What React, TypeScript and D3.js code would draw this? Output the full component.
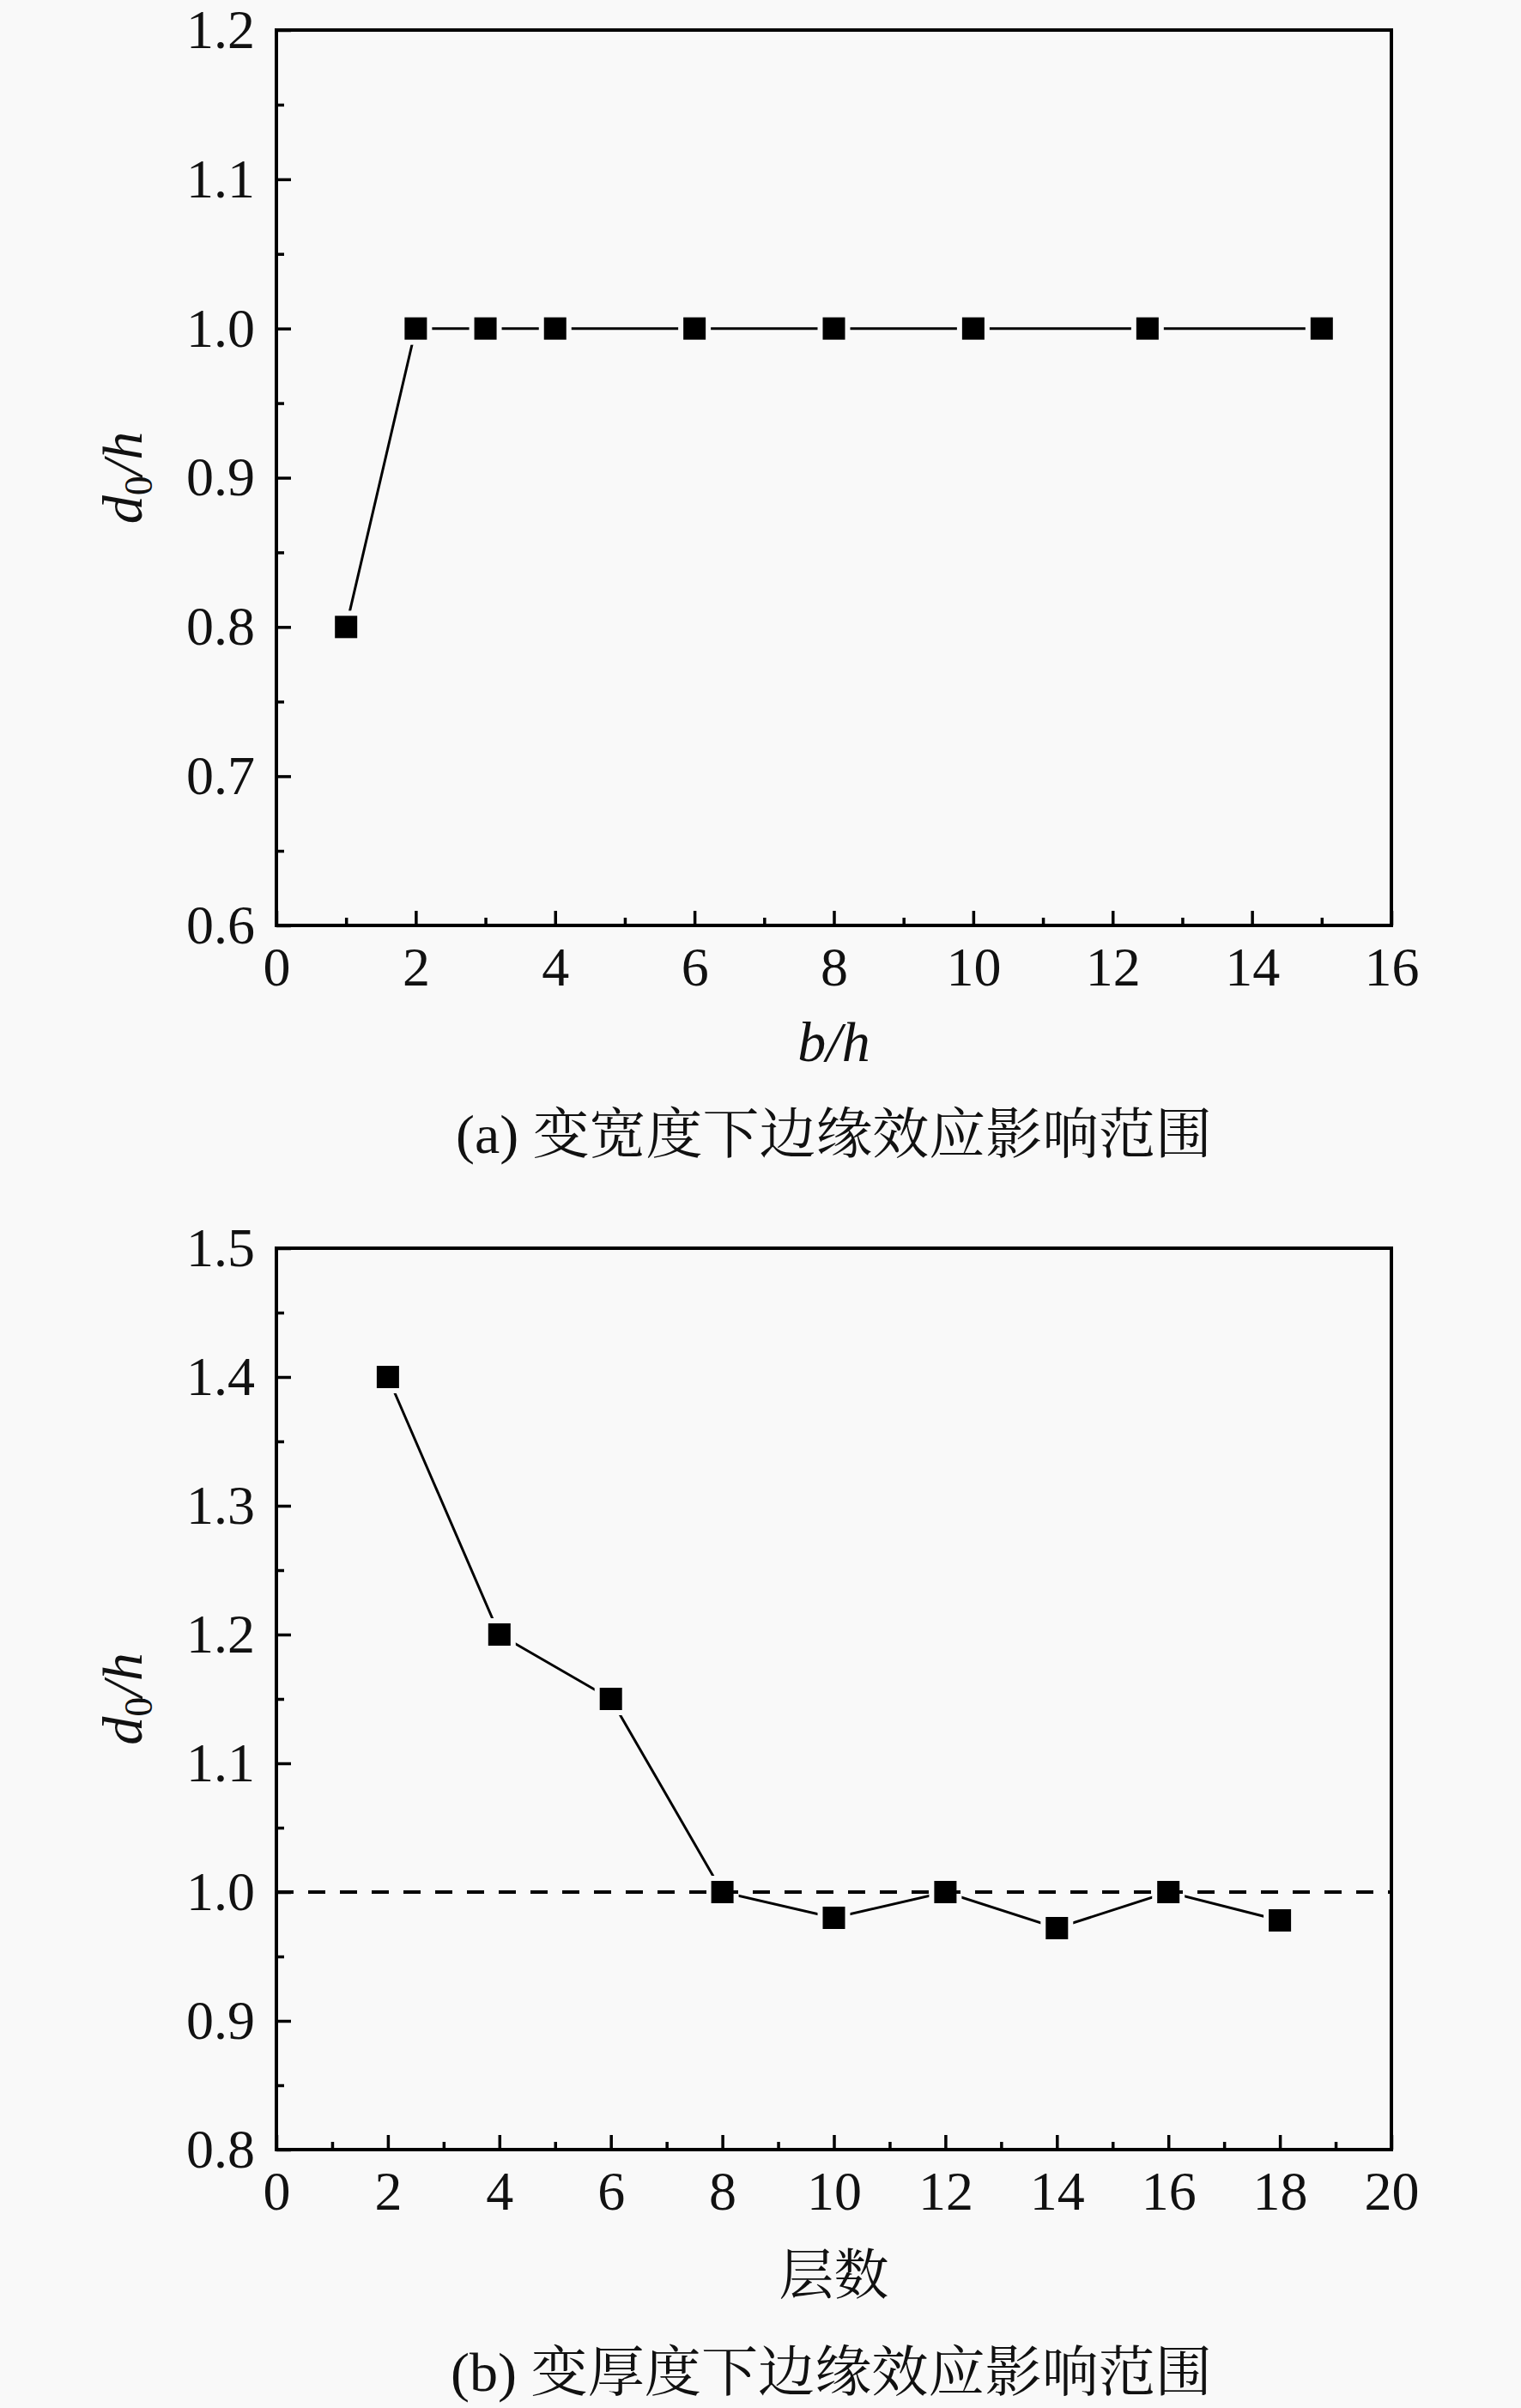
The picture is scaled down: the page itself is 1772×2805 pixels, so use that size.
import React, { useEffect, useRef } from 'react';
import * as d3 from 'd3';

// panel (a): edge effect range vs width
const widthRatio = [1, 2, 3, 4, 6, 8, 10, 12.5, 15];
const widthD0 = [0.8, 1.0, 1.0, 1.0, 1.0, 1.0, 1.0, 1.0, 1.0];

// panel (b): edge effect range vs number of layers
const layers = [2, 4, 6, 8, 10, 12, 14, 16, 18];
const layerD0 = [1.4, 1.2, 1.15, 1.0, 0.98, 1.0, 0.972, 1.0, 0.978];

const yTicksA = [0.6, 0.7, 0.8, 0.9, 1.0, 1.1, 1.2];
const yTicksB = [0.8, 0.9, 1.0, 1.1, 1.2, 1.3, 1.4, 1.5];

const captionA = '(a) 变宽度下边缘效应影响范围';
const captionB = '(b) 变厚度下边缘效应影响范围';
const xTitleB = '层数';

const BG = '#f9f9f9';
const SERIF = '"Liberation Serif", "Times New Roman", serif';
const CJK = '"Noto Serif CJK SC", "Noto Sans CJK SC", sans-serif';

interface Panel {
  top: number;
  bottom: number;
  xMax: number;
  yMin: number;
  yMax: number;
  yTicks: number[];
  xs: number[];
  ys: number[];
  refLine?: number;
}

const App: React.FC = () => {
  const svgRef = useRef<SVGSVGElement>(null);

  useEffect(() => {
    if (!svgRef.current) return;
    const svg = d3.select(svgRef.current);
    svg.selectAll('*').remove();

    svg.append('rect').attr('width', 1772).attr('height', 2805).attr('fill', BG);

    const left = 322;
    const right = 1621;

    const drawPanel = (p: Panel) => {
      const x = d3.scaleLinear().domain([0, p.xMax]).range([left, right]);
      const y = d3.scaleLinear().domain([p.yMin, p.yMax]).range([p.bottom, p.top]);
      const g = svg.append('g');

      const xMajor = d3.range(0, p.xMax + 0.001, 2);
      const xMinor = d3.range(1, p.xMax, 2);
      const yMinor = d3.range(p.yMin + 0.05, p.yMax, 0.1);

      // minor ticks
      g.append('g')
        .attr('transform', `translate(0,${p.bottom})`)
        .call(d3.axisBottom(x).tickValues(xMinor).tickSize(-9).tickFormat(() => ''))
        .call(s => s.select('.domain').remove());
      g.append('g')
        .attr('transform', `translate(${left},0)`)
        .call(d3.axisLeft(y).tickValues(yMinor).tickSize(-9).tickFormat(() => ''))
        .call(s => s.select('.domain').remove());

      // major ticks with labels
      const xa = g.append('g')
        .attr('transform', `translate(0,${p.bottom})`)
        .call(d3.axisBottom(x).tickValues(xMajor).tickSize(-17).tickPadding(25).tickFormat(d3.format('d')));
      xa.select('.domain').remove();
      const ya = g.append('g')
        .attr('transform', `translate(${left},0)`)
        .call(d3.axisLeft(y).tickValues(p.yTicks).tickSize(-17).tickPadding(25).tickFormat(d3.format('.1f')));
      ya.select('.domain').remove();

      g.selectAll('.tick line').attr('stroke', '#000').attr('stroke-width', 3.5);
      g.selectAll('.tick text')
        .attr('font-family', SERIF)
        .attr('font-size', 64)
        .attr('fill', '#111');

      // frame
      g.append('rect')
        .attr('x', left).attr('y', p.top)
        .attr('width', right - left).attr('height', p.bottom - p.top)
        .attr('fill', 'none').attr('stroke', '#000').attr('stroke-width', 4);

      // data line
      const line = d3.line<number>().x((_, i) => x(p.xs[i])).y(d => y(d));
      g.append('path')
        .attr('d', line(p.ys))
        .attr('fill', 'none').attr('stroke', '#000').attr('stroke-width', 3);

      const m = 26;
      // gap around symbols
      g.selectAll('rect.halo').data(p.ys).enter().append('rect')
        .attr('class', 'halo')
        .attr('x', (_, i) => x(p.xs[i]) - m / 2 - 6)
        .attr('y', d => y(d) - m / 2 - 6)
        .attr('width', m + 12).attr('height', m + 12)
        .attr('fill', BG);

      if (p.refLine !== undefined) {
        g.append('line')
          .attr('x1', left).attr('x2', right)
          .attr('y1', y(p.refLine)).attr('y2', y(p.refLine))
          .attr('stroke', '#000').attr('stroke-width', 4)
          .attr('stroke-dasharray', '20 17');
      }

      g.selectAll('rect.mk').data(p.ys).enter().append('rect')
        .attr('class', 'mk')
        .attr('x', (_, i) => x(p.xs[i]) - m / 2)
        .attr('y', d => y(d) - m / 2)
        .attr('width', m).attr('height', m)
        .attr('fill', '#000');

      // y title d0/h
      const cy = (p.top + p.bottom) / 2;
      const yt = g.append('text')
        .attr('transform', `translate(165,${cy}) rotate(-90)`)
        .attr('text-anchor', 'middle')
        .attr('font-family', SERIF)
        .attr('font-size', 66)
        .attr('fill', '#111');
      yt.append('tspan').attr('font-style', 'italic').text('d');
      yt.append('tspan').attr('font-size', 46).attr('dy', 12).text('0');
      yt.append('tspan').attr('font-style', 'italic').attr('dy', -12).text('/h');
    };

    drawPanel({ top: 35, bottom: 1078, xMax: 16, yMin: 0.6, yMax: 1.2, yTicks: yTicksA, xs: widthRatio, ys: widthD0 });
    drawPanel({ top: 1454, bottom: 2504, xMax: 20, yMin: 0.8, yMax: 1.5, yTicks: yTicksB, xs: layers, ys: layerD0, refLine: 1.0 });

    const cx = (left + right) / 2;
    // x titles
    svg.append('text')
      .attr('x', cx).attr('y', 1236)
      .attr('text-anchor', 'middle')
      .attr('font-family', SERIF).attr('font-size', 66).attr('font-style', 'italic')
      .attr('fill', '#111')
      .text('b/h');
    svg.append('text')
      .attr('x', cx).attr('y', 2672)
      .attr('text-anchor', 'middle')
      .attr('font-family', CJK).attr('font-size', 64)
      .attr('fill', '#111')
      .text(xTitleB);

    // captions
    const cap = (txt: string, x0: number, yb: number) => {
      const t = svg.append('text')
        .attr('x', x0).attr('y', yb)
        .attr('textLength', 1412 - x0)
        .attr('lengthAdjust', 'spacingAndGlyphs')
        .attr('font-size', 64)
        .attr('fill', '#111');
      t.append('tspan').attr('font-family', SERIF).text(txt.slice(0, 4));
      t.append('tspan').attr('font-family', CJK).text(txt.slice(4));
    };
    cap(captionA, 531, 1343);
    cap(captionB, 525, 2785);
  }, []);

  return (
    <svg
      ref={svgRef}
      width={1772}
      height={2805}
      style={{ position: 'absolute', left: 0, top: 0, display: 'block' }}
    />
  );
};

export default App;
